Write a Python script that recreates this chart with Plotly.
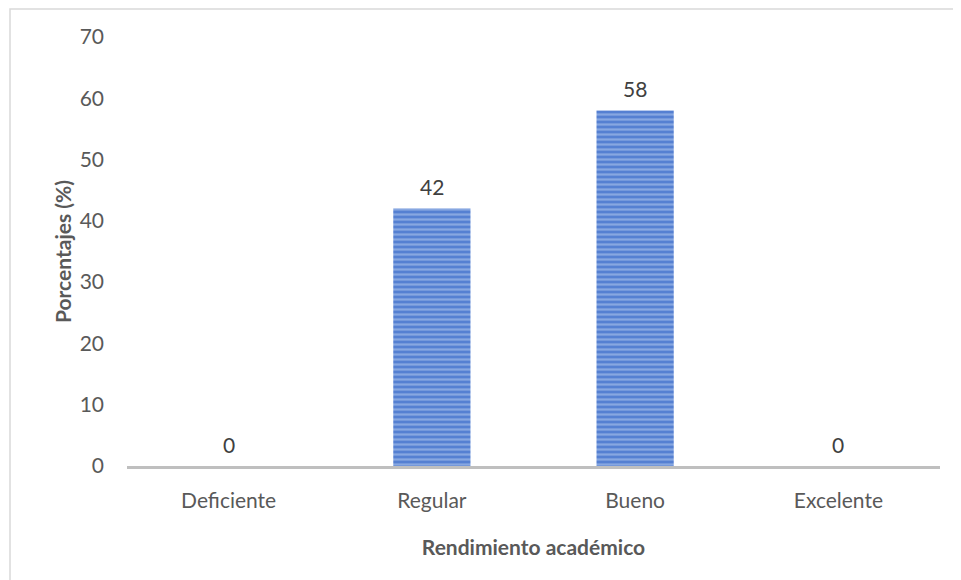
import plotly.graph_objects as go

categories = ["Deficiente", "Regular", "Bueno", "Excelente"]
values = [0, 42, 58, 0]
y_ticks = [0, 10, 20, 30, 40, 50, 60, 70]

FONT = "Lato"
GREY = "#595959"
FS = 21

# page body has an 8px margin; plot area target: x 127..940, y 37..466 on screen
OFF = 8
PL, PR, PT, PB = 127, 940, 37, 466
PW, PH = PR - PL, PB - PT

fig = go.Figure()
fig.add_trace(go.Bar(
    x=categories,
    y=values,
    width=0.38,
    marker=dict(
        color="#5580d2",
        line=dict(width=0),
        pattern=dict(shape="-", fgcolor="#b9cdef", bgcolor="#5580d2",
                     size=5, solidity=0.45),
    ),
    hoverinfo="skip",
))

annotations = [
    dict(x=c, y=v, xref="x", yref="y", text=str(v), showarrow=False,
         yanchor="middle", yshift=22,
         font=dict(family=FONT, size=FS, color="#404040"))
    for c, v in zip(categories, values)
]

fig.update_layout(
    width=961, height=580,
    margin=dict(l=PL - OFF, r=961 + OFF - PR, t=PT - OFF, b=580 + OFF - PB),
    paper_bgcolor="white",
    plot_bgcolor="white",
    showlegend=False,
    font=dict(family=FONT, color=GREY, size=FS),
    annotations=annotations,
    xaxis=dict(
        showgrid=False,
        showline=True, linecolor="#bfbfbf", linewidth=3,
        ticks="", ticklabelstandoff=14,
        tickfont=dict(family=FONT, size=FS, color=GREY),
        title=dict(text="<b>Rendimiento académico</b>",
                   font=dict(family=FONT, size=FS, color=GREY), standoff=30),
    ),
    yaxis=dict(
        range=[0, 70],
        tickvals=y_ticks,
        showgrid=False, zeroline=False, showline=False,
        ticks="", ticklabelstandoff=22,
        tickfont=dict(family=FONT, size=FS, color=GREY),
        title=dict(text="<b>Porcentajes (%)</b>",
                   font=dict(family=FONT, size=FS, color=GREY), standoff=2),
    ),
    shapes=[dict(
        type="rect", xref="paper", yref="paper",
        x0=(10 - PL) / PW, x1=1.3, y0=-0.5, y1=(PB - 9) / PH,
        line=dict(color="#d9d9d9", width=1.5), fillcolor="rgba(0,0,0,0)",
        layer="below",
    )],
)

fig.write_html("out.html")
